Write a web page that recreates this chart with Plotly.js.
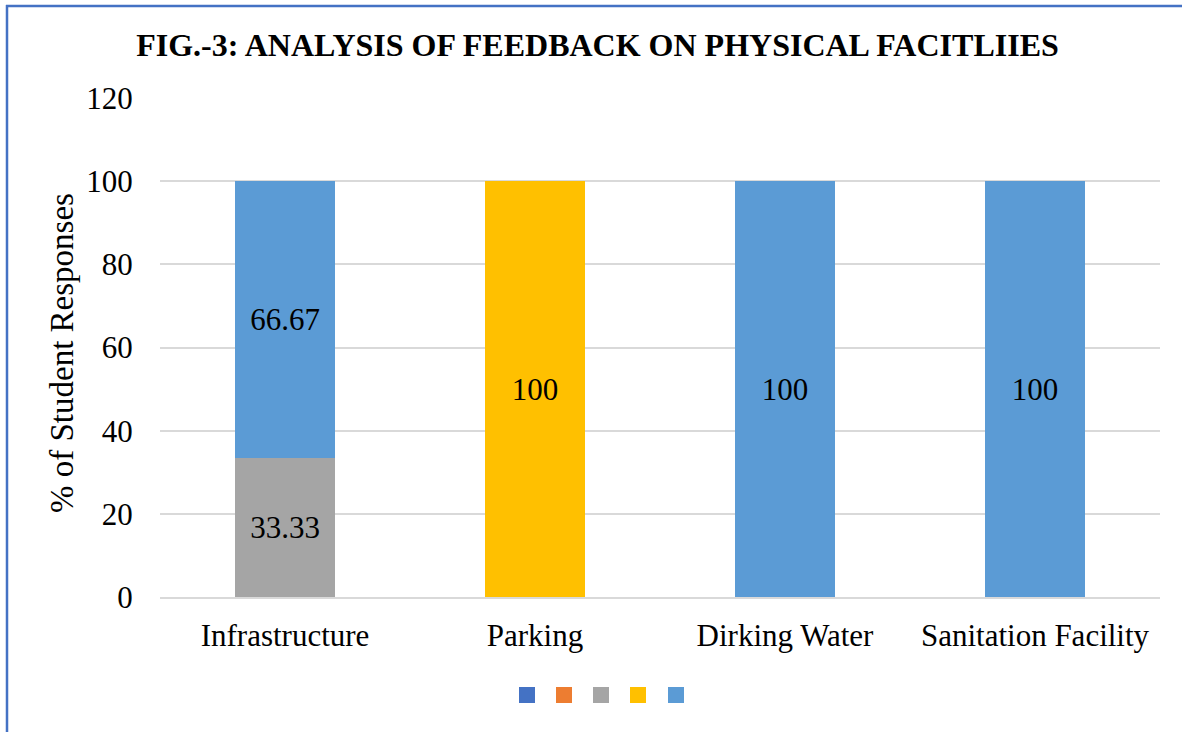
<!DOCTYPE html>
<html>
<head>
<meta charset="utf-8">
<script src="https://cdn.plot.ly/plotly-3.0.1.min.js"></script>
<style>
html,body{margin:0;padding:0;background:#fff;}
#chart{width:1182px;height:732px;}
</style>
</head>
<body>
<div id="chart"></div>
<script>
const categories = ["Infrastructure", "Parking", "Dirking Water", "Sanitation Facility"];
const series1 = [null, null, null, null];
const series2 = [null, null, null, null];
const series3 = [33.33, null, null, null];
const series4 = [null, 100, null, null];
const series5 = [66.67, null, 100, 100];
const seriesNames = ["Series 1", "Series 2", "Series 3", "Series 4", "Series 5"];
const seriesColors = ["#4472C4", "#ED7D31", "#A5A5A5", "#FFC000", "#5B9BD5"];
const yTicks = [0, 20, 40, 60, 80, 100, 120];

const allSeries = [series1, series2, series3, series4, series5];
const FONT = "Liberation Serif, Times New Roman, serif";

const traces = allSeries.map((vals, i) => ({
  type: "bar",
  name: seriesNames[i],
  x: categories,
  y: vals,
  marker: {color: seriesColors[i]},
  text: vals.map(v => (v === null ? "" : String(v))),
  textposition: "inside",
  insidetextanchor: "middle",
  constraintext: "none",
  textfont: {family: FONT, size: 31, color: "#000"},
  hoverinfo: "x+y",
  showlegend: false
}));

// legend squares (no labels in the reference)
const L = 160, R = 1160, T = 98, B = 597;
const px2x = p => (p - L) / (R - L);
const px2y = p => (B - p) / (B - T);
const legendCenters = [527, 564, 601, 638, 676];
const shapes = seriesColors.map((c, i) => ({
  type: "rect", xref: "paper", yref: "paper",
  x0: px2x(legendCenters[i] - 8), x1: px2x(legendCenters[i] + 8),
  y0: px2y(703), y1: px2y(687),
  fillcolor: c, line: {width: 0}
}));
// frame lines (left and top)
shapes.push({type: "line", xref: "paper", yref: "paper",
  x0: px2x(7), x1: px2x(7), y0: px2y(5), y1: px2y(740),
  line: {color: "#4472C4", width: 2.5}});
shapes.push({type: "line", xref: "paper", yref: "paper",
  x0: px2x(6), x1: px2x(1190), y0: px2y(6), y1: px2y(6),
  line: {color: "#4472C4", width: 2.5}});

const layout = {
  width: 1182, height: 732,
  margin: {l: L, r: 1182 - R, t: T, b: 732 - B, pad: 0},
  paper_bgcolor: "#fff", plot_bgcolor: "#fff",
  barmode: "stack",
  bargap: 0.6,
  font: {family: FONT, color: "#000"},
  title: {
    text: "<b>FIG.-3: ANALYSIS OF FEEDBACK ON PHYSICAL FACITLIIES</b>",
    font: {family: FONT, size: 32, color: "#000"},
    x: 0.5055, xref: "container", xanchor: "center",
    y: 1 - 45 / 732, yref: "container", yanchor: "middle"
  },
  xaxis: {
    type: "category",
    tickfont: {family: FONT, size: 31, color: "#000"},
    ticks: "outside", ticklen: 10, tickcolor: "rgba(0,0,0,0)",
    showline: true, linecolor: "#d9d9d9", linewidth: 1.5,
    showgrid: false, automargin: false
  },
  yaxis: {
    range: [0, 120],
    tickvals: yTicks,
    ticktext: yTicks.map(String),
    tickfont: {family: FONT, size: 31, color: "#000"},
    ticks: "outside", ticklen: 20, tickcolor: "rgba(0,0,0,0)",
    showgrid: true, gridcolor: "#d9d9d9", gridwidth: 1.5,
    zeroline: false, showline: false, automargin: false
  },
  annotations: [{
    text: "% of Student Responses",
    xref: "paper", yref: "paper",
    x: 0, xshift: 62 - L, xanchor: "center",
    y: px2y(353), yanchor: "middle",
    textangle: -90, showarrow: false,
    font: {family: FONT, size: 33, color: "#000"}
  }],
  shapes: shapes
};

Plotly.newPlot("chart", traces, layout, {displayModeBar: false, responsive: false});
</script>
</body>
</html>
